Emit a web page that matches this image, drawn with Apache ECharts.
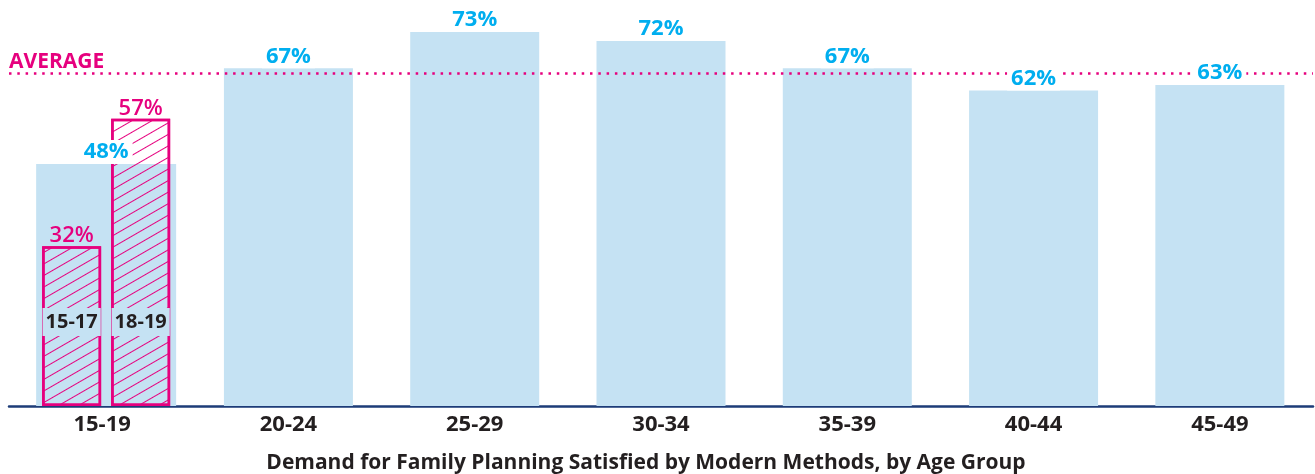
<!DOCTYPE html>
<html><head><meta charset="utf-8">
<script src="https://cdn.jsdelivr.net/npm/echarts@6/dist/echarts.min.js"></script>
<style>html,body{margin:0;padding:0;background:#fff}#c{width:1315px;height:474px}</style>
</head><body><div id="c"></div>
<script>
// ---- data ----
const categories = ['15-19', '20-24', '25-29', '30-34', '35-39', '40-44', '45-49'];
const totalValues = [48, 67, 74.2, 72.4, 67, 62.6, 63.7];
const totalLabels = ['48%', '67%', '73%', '72%', '67%', '62%', '63%'];
const subGroups = ['15-17', '18-19'];
const subValues = [31.7, 57];
const subLabels = ['32%', '57%'];
const averageValue = 66;
const averageLabel = 'AVERAGE';
const xAxisTitle = 'Demand for Family Planning Satisfied by Modern Methods, by Age Group';

// ---- style ----
const FONT = 'Open Sans';
const BLUE_FILL = '#c5e2f3';
const BLUE_TEXT = '#00aeef';
const PINK = '#e6007e';
const DARK = '#231f20';
const NAVY = '#1d3c78';

const onlyFirst = v => categories.map((c, i) => i === 0 ? v : null);
const exceptFirst = arr => arr.map((v, i) => i === 0 ? null : v);

const gridCommon = { top: 2.8, bottom: 68, width: 1304, containLabel: false, outerBoundsMode: 'none' };
const hiddenX = g => ({ type: 'category', data: categories, gridIndex: g, show: false });

const blueLabel = {
  show: true, position: 'top', distance: 0,
  color: BLUE_TEXT, fontFamily: FONT, fontWeight: 'bold', fontSize: 22,
  lineHeight: 24, backgroundColor: '#fff', padding: [0, 4, 0, 4],
  formatter: p => totalLabels[p.dataIndex]
};
const transparent = { color: 'rgba(0,0,0,0)' };

const hatch = {
  symbol: 'rect', symbolSize: 1, dashArrayX: [1, 0], dashArrayY: [1, 8.5],
  rotation: -Math.PI / 6, color: PINK
};

const option = {
  animation: false,
  backgroundColor: '#fff',
  grid: [
    Object.assign({ left: 9 }, gridCommon),
    Object.assign({ left: 13 }, gridCommon)
  ],
  xAxis: [
    {
      type: 'category', data: categories, gridIndex: 0,
      axisLine: { show: true, lineStyle: { color: NAVY, width: 2.5 } },
      axisTick: { show: false },
      axisLabel: { color: DARK, fontFamily: FONT, fontWeight: 'bold', fontSize: 22, margin: 8 },
      name: xAxisTitle, nameLocation: 'middle', nameGap: 47,
      nameTextStyle: { color: DARK, fontFamily: FONT, fontWeight: 'bold', fontSize: 21, padding: [0, 30, 0, 0] }
    },
    hiddenX(0), // blue label overlay
    hiddenX(1), // wide 15-19 bar
    hiddenX(1), // its label overlay
    hiddenX(1), // sub-group hatched bars
    hiddenX(1)  // sub-group value label overlay
  ],
  yAxis: [
    { type: 'value', min: 0, max: 80, gridIndex: 0, show: false },
    { type: 'value', min: 0, max: 80, gridIndex: 1, show: false }
  ],
  series: [
    {
      name: 'Total', type: 'bar', xAxisIndex: 0, yAxisIndex: 0, z: 2,
      barWidth: 129, data: exceptFirst(totalValues),
      itemStyle: { color: BLUE_FILL },
      markLine: {
        silent: true, symbol: 'none', z: 5,
        data: [{ yAxis: averageValue }],
        lineStyle: { color: PINK, width: 2.5, type: [2.5, 5.8] },
        label: {
          show: true, position: 'insideStartTop', distance: [0, 1],
          formatter: averageLabel, color: PINK, fontFamily: FONT,
          fontWeight: 'bold', fontSize: 21
        }
      }
    },
    {
      name: 'TotalLabels', type: 'bar', xAxisIndex: 1, yAxisIndex: 0, z: 10,
      barWidth: 129, data: exceptFirst(totalValues),
      itemStyle: transparent, label: blueLabel, silent: true
    },
    {
      name: 'Total 15-19', type: 'bar', xAxisIndex: 2, yAxisIndex: 1, z: 2,
      barWidth: 140, data: onlyFirst(totalValues[0]),
      itemStyle: { color: BLUE_FILL }
    },
    {
      name: 'Total 15-19 label', type: 'bar', xAxisIndex: 3, yAxisIndex: 1, z: 10,
      barWidth: 140, data: onlyFirst(totalValues[0]),
      itemStyle: transparent, label: blueLabel, silent: true
    },
  ].concat(subGroups.map((g, k) => ({
    name: g, type: 'bar', xAxisIndex: 4, yAxisIndex: 1, z: 2,
    barWidth: 59, barGap: '17%',
    data: onlyFirst(subValues[k]),
    itemStyle: { color: 'rgba(255,255,255,0)', borderColor: PINK, borderWidth: 2.5, decal: hatch },
    label: {
      show: true, position: 'insideBottom', distance: 70,
      formatter: g, color: DARK, fontFamily: FONT, fontWeight: 'bold', fontSize: 20,
      lineHeight: 20, backgroundColor: BLUE_FILL, padding: [4, 3, 4, 3]
    }
  }))).concat(subGroups.map((g, k) => ({
    name: g + ' label', type: 'bar', xAxisIndex: 5, yAxisIndex: 1, z: 10,
    barWidth: 59, barGap: '17%',
    data: onlyFirst(subValues[k]),
    itemStyle: transparent, silent: true,
    label: {
      show: true, position: 'top', distance: -1,
      formatter: subLabels[k], color: PINK, fontFamily: FONT, fontWeight: 600, fontSize: 22
    }
  })))
};

const chart = echarts.init(document.getElementById('c'), null, { renderer: 'canvas' });
chart.setOption(option);
</script>
</body></html>
